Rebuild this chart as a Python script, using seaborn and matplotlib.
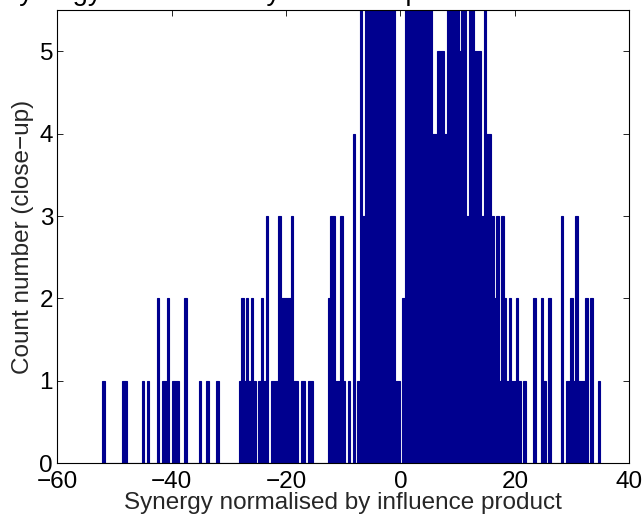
import numpy as np
import pandas as pd
import matplotlib
matplotlib.use("Agg")
import matplotlib.pyplot as plt
import seaborn as sns

# Histogram of normalised synergy: 201 equal-width bins between x_lo and x_hi
x_lo, x_hi = -52.12, 34.91
counts = [
    1, 0, 0, 0, 0, 0, 0, 0, 1, 1,        # 0-9
    0, 0, 0, 0, 0, 0, 1, 0, 1, 0,        # 10-19
    0, 0, 2, 0, 1, 1, 2, 0, 1, 1,        # 20-29
    1, 0, 0, 2, 0, 0, 0, 0, 0, 1,        # 30-39
    0, 0, 1, 0, 0, 0, 1, 0, 0, 0,        # 40-49
    0, 0, 0, 0, 0, 1, 2, 1, 2, 1,        # 50-59
    2, 1, 0, 1, 2, 1, 3, 0, 1, 1,        # 60-69
    1, 3, 2, 2, 2, 2, 3, 1, 1, 0,        # 70-79
    1, 1, 0, 1, 1, 0, 0, 0, 0, 0,        # 80-89
    0, 2, 3, 3, 1, 1, 3, 1, 0, 1,        # 90-99
    0, 4, 0, 1, 6, 3, 7, 8, 7, 9,        # 100-109
    8, 10, 9, 11, 10, 9, 8, 7, 1, 1,     # 110-119
    0, 2, 8, 10, 12, 11, 13, 12, 10, 11, # 120-129
    9, 8, 7, 4, 4, 5, 5, 5, 4, 8,        # 130-139
    7, 9, 8, 6, 5, 7, 6, 3, 7, 6,        # 140-149
    5, 5, 5, 3, 6, 4, 4, 3, 2, 3,        # 150-159
    1, 3, 2, 1, 2, 1, 1, 2, 1, 0,        # 160-169
    1, 0, 0, 0, 2, 0, 0, 2, 1, 0,        # 170-179
    2, 0, 0, 0, 0, 3, 0, 1, 1, 2,        # 180-189
    1, 3, 1, 1, 1, 2, 0, 2, 0, 0,        # 190-199
    1,                                   # 200
]

x_ticks = [-60, -40, -20, 0, 20, 40]
y_ticks = [0, 1, 2, 3, 4, 5]
title = "Synergy normalised by influence product"
x_label = "Synergy normalised by influence product"
y_label = "Count number (close\u2212up)"

edges = np.linspace(x_lo, x_hi, len(counts) + 1)
hist_df = pd.DataFrame({
    "synergy": 0.5 * (edges[:-1] + edges[1:]),
    "count": counts,
})

sns.set_theme(style="white")
plt.rcParams["font.family"] = ["Liberation Sans", "DejaVu Sans"]
plt.rcParams["axes.unicode_minus"] = True

navy = "#00008F"
fig = plt.figure(figsize=(6.43, 5.16), dpi=100)
ax = fig.add_axes([0.0891, 0.1021, 0.8896, 0.8785])

sns.histplot(data=hist_df, x="synergy", weights="count", bins=list(edges),
             stat="count", element="bars", color=navy, edgecolor=navy,
             linewidth=0.8, alpha=1.0, ax=ax)

ax.set_xlim(-60, 40)
ax.set_ylim(0, 5.5)
ax.set_xticks(x_ticks)
ax.set_yticks(y_ticks)
ax.tick_params(direction="in", length=4, width=0.6, colors="black",
               labelsize=17.5, top=True, right=True, bottom=True, left=True,
               labeltop=False, labelright=False)
ax.tick_params(axis="x", pad=5.5)
ax.tick_params(axis="y", pad=3)
for s in ax.spines.values():
    s.set_visible(True)
    s.set_color("black")
    s.set_linewidth(0.8)
ax.set_facecolor("white")
ax.grid(False)
ax.set_xlabel(x_label, fontsize=17.5, labelpad=-1)
ax.set_ylabel(y_label, fontsize=17.5, labelpad=4)

# title baseline sits just above the canvas: only the descenders stay inside
fig.text(1.0 / 643, 1 + 0.3 / 516, title, ha="left", va="baseline",
         fontsize=19.8, color="black")

fig.savefig("out.png", dpi=100, facecolor="white")
